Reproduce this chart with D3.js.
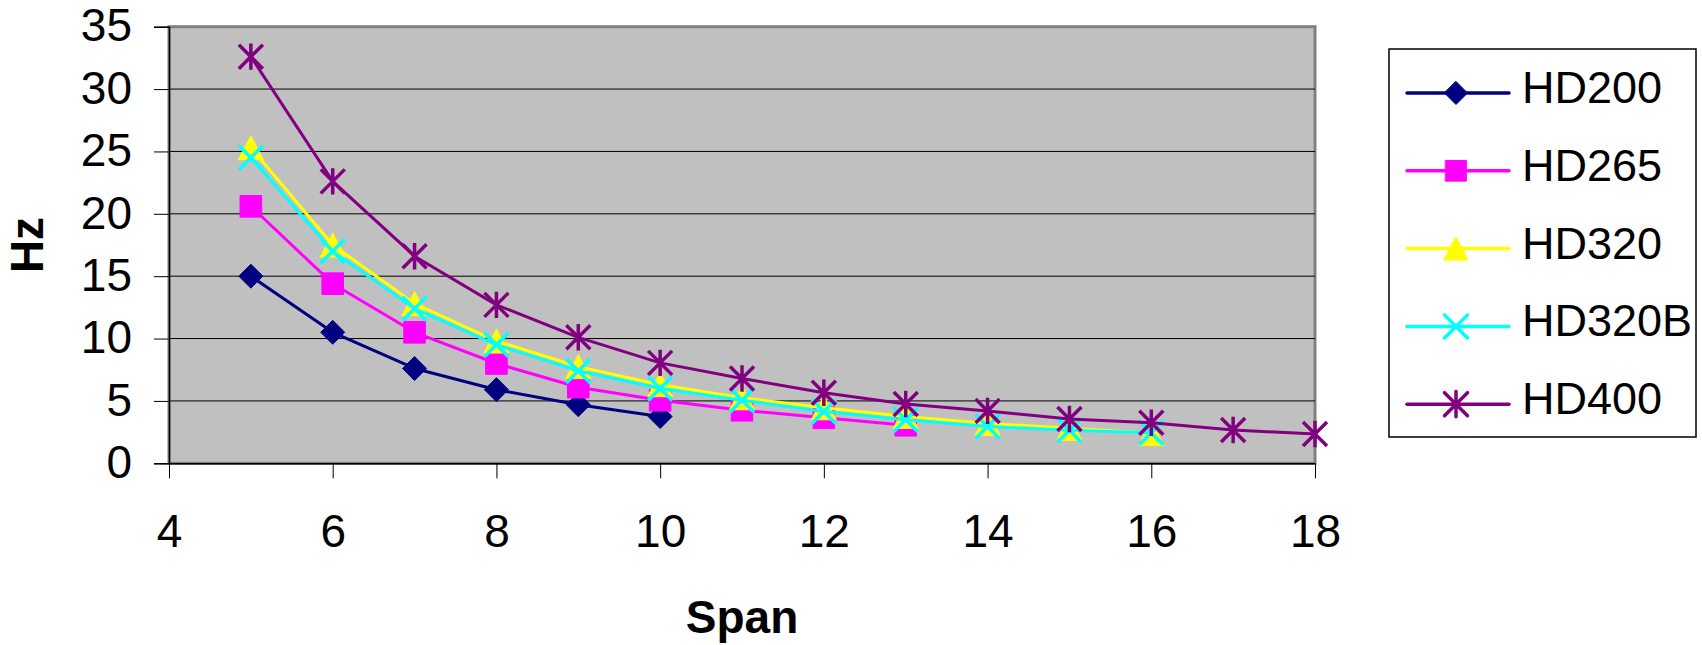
<!DOCTYPE html>
<html>
<head>
<meta charset="utf-8">
<script src="https://cdn.jsdelivr.net/npm/d3@7"></script>
<style>
  body { margin: 0; background: #fff; }
  svg { display: block; font-family: "Liberation Sans", Arial, sans-serif; }
</style>
</head>
<body>
<div id="chart"></div>
<script>
// natural frequency vs span for each beam type

var spans = [5, 6, 7, 8, 9, 10, 11, 12, 13, 14, 15, 16, 17, 18]
var seriesNames = ["HD200", "HD265", "HD320", "HD320B", "HD400"]
var hd200 = [15.0, 10.5, 7.6, 5.9, 4.7, 3.75]
var hd265 = [20.6, 14.4, 10.5, 8.0, 6.1, 5.05, 4.25, 3.65, 3.05]
var hd320 = [25.3, 17.5, 12.8, 9.8, 7.75, 6.3, 5.25, 4.45, 3.75, 3.2, 2.8, 2.4]
var hd320b = [24.5, 17.0, 12.4, 9.5, 7.4, 6.0, 5.05, 4.15, 3.5, 2.95, 2.65, 2.45]
var hd400 = [32.6, 22.6, 16.6, 12.7, 10.1, 8.05, 6.8, 5.65, 4.75, 4.2, 3.55, 3.25, 2.67, 2.35]
var xTicks = [4, 6, 8, 10, 12, 14, 16, 18]
var yTicks = [0, 5, 10, 15, 20, 25, 30, 35]

var colors = ["#000080", "#ff00ff", "#ffff00", "#00ffff", "#800080"]
var shapes = ["diamond", "square", "triangle", "cross", "star"]

var width = 1702
var height = 645
var margin = ({ top: 26.7, right: 387, bottom: 181.7, left: 169 })

var svg = d3.select("#chart")
    .append("svg")
    .attr("width", width)
    .attr("height", height);

var x = d3.scaleLinear()
    .domain([4, 18])
    .range([margin.left, width - margin.right])

var y = d3.scaleLinear()
    .domain([0, 35])
    .range([height - margin.bottom, margin.top])

// build series from the arrays
var series = [hd200, hd265, hd320, hd320b, hd400].map(function (vals, i) {
    return {
        name: seriesNames[i],
        color: colors[i],
        shape: shapes[i],
        values: vals.map((v, j) => ({ span: spans[j], hz: v }))
    }
})

// marker paths, r = half size
function marker(shape, r) {
    if (shape == "diamond") return `M0,${-r}L${r},0L0,${r}L${-r},0Z`
    if (shape == "square") return `M${-r * 0.9},${-r * 0.9}H${r * 0.9}V${r * 0.9}H${-r * 0.9}Z`
    if (shape == "triangle") return `M0,${-r}L${r * 1.05},${r}H${-r * 1.05}Z`
    if (shape == "cross") return `M${-r},${-r}L${r},${r}M${r},${-r}L${-r},${r}`
    return `M${-r},${-r}L${r},${r}M${r},${-r}L${-r},${r}M0,${-r * 1.1}V${r * 1.1}`
}
function isFilled(shape) {
    return shape == "diamond" || shape == "square" || shape == "triangle"
}

// plot background
svg.append("rect")
    .attr("x", x(4))
    .attr("y", y(35))
    .attr("width", x(18) - x(4))
    .attr("height", y(0) - y(35))
    .attr("fill", "#c0c0c0")
    .attr("stroke", "#808080")
    .attr("stroke-width", 3);

// gridlines
svg.append("g")
    .selectAll("line")
    .data(yTicks.filter(d => d > 0 && d < 35))
    .join("line")
    .attr("x1", x(4))
    .attr("x2", x(18))
    .attr("y1", d => y(d))
    .attr("y2", d => y(d))
    .attr("stroke", "#000")
    .attr("stroke-width", 1);

// y axis
var yAxis = g => g
    .attr("transform", `translate(${x(4)},0)`)
    .call(d3.axisLeft(y).tickValues(yTicks).tickSize(15).tickPadding(22))
    .call(g => g.select(".domain").attr("stroke", "#000").attr("stroke-width", 1.5))
    .call(g => g.selectAll(".tick line").attr("stroke", "#000"))
    .call(g => g.selectAll(".tick text")
        .attr("font-size", 46)
        .attr("font-family", "'Liberation Sans', Arial, sans-serif")
        .attr("fill", "#000")
        .attr("dy", "0.31em"))

// x axis
var xAxis = g => g
    .attr("transform", `translate(0,${y(0)})`)
    .call(d3.axisBottom(x).tickValues(xTicks).tickSize(15).tickSizeOuter(0))
    .call(g => g.select(".domain").attr("stroke", "#000").attr("stroke-width", 1.5))
    .call(g => g.selectAll(".tick line").attr("stroke", "#000"))
    .call(g => g.selectAll(".tick text")
        .attr("font-size", 46)
        .attr("font-family", "'Liberation Sans', Arial, sans-serif")
        .attr("fill", "#000")
        .attr("y", 84)
        .attr("dy", 0))

svg.append("g").call(yAxis);
svg.append("g").call(xAxis);

// axis titles
svg.append("text")
    .attr("x", (x(4) + x(18)) / 2)
    .attr("y", 633)
    .attr("text-anchor", "middle")
    .attr("font-size", 46)
    .attr("font-weight", "bold")
    .text("Span");

svg.append("text")
    .attr("transform", `translate(43,${(y(0) + y(35)) / 2}) rotate(-90)`)
    .attr("text-anchor", "middle")
    .attr("font-size", 46)
    .attr("font-weight", "bold")
    .text("Hz");

// lines and markers, one series at a time
var line = d3.line()
    .x(d => x(d.span))
    .y(d => y(d.hz))

var groups = svg.append("g")
    .selectAll("g")
    .data(series)
    .join("g");

groups.append("path")
    .attr("fill", "none")
    .attr("stroke", d => d.color)
    .attr("stroke-width", 3)
    .attr("stroke-linejoin", "round")
    .attr("d", d => line(d.values));

groups.each(function (s) {
    d3.select(this).selectAll(".mk")
        .data(s.values)
        .join("path")
        .attr("class", "mk")
        .attr("transform", d => `translate(${x(d.span)},${y(d.hz)})`)
        .attr("d", marker(s.shape, 12))
        .attr("fill", isFilled(s.shape) ? s.color : "none")
        .attr("stroke", s.color)
        .attr("stroke-width", isFilled(s.shape) ? 1 : 3.5)
        .attr("stroke-linejoin", "round");
})

// legend
var legend = svg.append("g");

legend.append("rect")
    .attr("x", 1389)
    .attr("y", 49)
    .attr("width", 307)
    .attr("height", 388)
    .attr("fill", "#fff")
    .attr("stroke", "#000")
    .attr("stroke-width", 1.5);

var items = legend.selectAll(".item")
    .data(series)
    .join("g")
    .attr("class", "item")
    .attr("transform", (d, i) => `translate(0,${93 + i * 77.8})`);

items.append("line")
    .attr("x1", 1407)
    .attr("x2", 1509)
    .attr("stroke", d => d.color)
    .attr("stroke-width", 3.5)
    .attr("stroke-linecap", "round");

items.append("path")
    .attr("transform", "translate(1456,0)")
    .attr("d", d => marker(d.shape, 11.5))
    .attr("fill", d => isFilled(d.shape) ? d.color : "none")
    .attr("stroke", d => d.color)
    .attr("stroke-width", d => isFilled(d.shape) ? 1 : 3.5)
    .attr("stroke-linejoin", "round")
    .attr("stroke-linecap", "round");

items.append("text")
    .attr("x", 1522)
    .attr("y", 10)
    .attr("font-size", 45)
    .attr("fill", "#000")
    .text(d => d.name);
</script>
</body>
</html>
